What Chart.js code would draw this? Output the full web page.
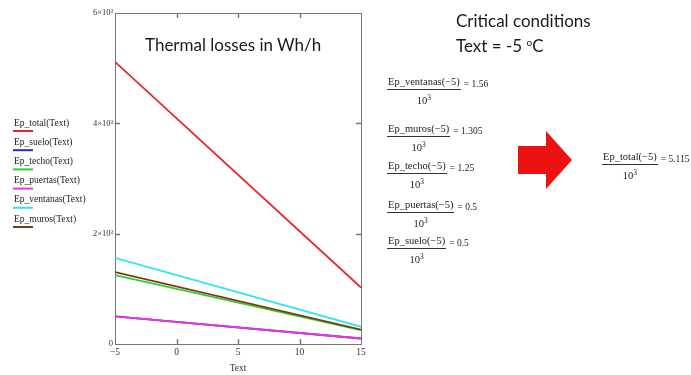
<!DOCTYPE html>
<html>
<head>
<meta charset="utf-8">
<script src="https://cdn.jsdelivr.net/npm/chart.js@4/dist/chart.umd.min.js"></script>
<style>
  body { margin: 0; background: #fff; }
  #page { position: relative; width: 691px; height: 375px; overflow: hidden; font-family: "Liberation Serif", serif; color: #222; }
  #myChart { position: absolute; left: 0; top: 0; }
  .big { position: absolute; font-family: Lato, "Open Sans", sans-serif; font-size: 17px; line-height: 22px; white-space: nowrap; color: #1a1a1a; }
  .big sup { font-size: 10px; vertical-align: 6px; }
  .frac { position: absolute; font-size: 10.5px; line-height: 12px; white-space: nowrap; }
  .frac .num { display: block; border-bottom: 1px solid #333; padding: 0 1px 1px 1px; }
  .frac .den { display: block; text-align: center; margin-top: 2px; }
  .frac .den sup { font-size: 7.5px; vertical-align: 4px; }
  .frac .eq { position: absolute; left: 100%; top: 2px; padding-left: 3px; font-size: 9.5px; }
  #arrow { position: absolute; left: 0; top: 0; }
</style>
</head>
<body>
<div id="page">
  <canvas id="myChart" width="691" height="375"></canvas>
  <div class="big" style="left:145px; top:34px;">Thermal losses in Wh/h</div>
  <div class="big" style="left:456px; top:10px;">Critical conditions</div>
  <div class="big" style="left:456px; top:31px;">Text = -5 <sup>o</sup>C</div>
  <svg id="arrow" width="691" height="375">
    <polygon points="518,146 546,146 546,131 572,160 546,189 546,174 518,174" fill="#ee1111"/>
  </svg>
  <div id="formulas"></div>
</div>
<script>
// values (Wh/h) at Text = -5 and Text = 15
var textValues = [-5, 15];
var epTotal = [5115, 1023];
var epSuelo = [500, 100];
var epTecho = [1250, 250];
var epPuertas = [500, 100];
var epVentanas = [1560, 312];
var epMuros = [1305, 261];

var xTicks = [-5, 0, 5, 10, 15];
var xTickLabels = ["\u22125", "0", "5", "10", "15"];
var yTicks = [0, 2000, 4000, 6000];
var yTickLabels = ["0", "2\u00d710\u00b3", "4\u00d710\u00b3", "6\u00d710\u00b3"];

var seriesNames = ["Ep_total", "Ep_suelo", "Ep_techo", "Ep_puertas", "Ep_ventanas", "Ep_muros"];
var seriesData = [epTotal, epSuelo, epTecho, epPuertas, epVentanas, epMuros];
var seriesColors = ["#e8262a", "#2a2ab8", "#33cc33", "#ee33dd", "#33e6f0", "#7a3d12"];

function toPoints(arr) {
  return arr.map(function (v, i) { return { x: textValues[i], y: v }; });
}

// frame + inward ticks like mathcad
var framePlugin = {
  id: "frame",
  beforeDatasetsDraw: function (chart) {
    var ctx = chart.ctx, a = chart.chartArea;
    var xs = chart.scales.x, ys = chart.scales.y;
    ctx.save();
    ctx.strokeStyle = "#777";
    ctx.lineWidth = 1;
    ctx.strokeRect(a.left + 0.5, a.top + 0.5, a.right - a.left, a.bottom - a.top);
    ctx.lineWidth = 1.5;
    xTicks.slice(1, -1).forEach(function (t) {
      var px = Math.round(xs.getPixelForValue(t)) + 0.5;
      ctx.beginPath();
      ctx.moveTo(px, a.bottom); ctx.lineTo(px, a.bottom - 5);
      ctx.moveTo(px, a.top); ctx.lineTo(px, a.top + 5);
      ctx.stroke();
    });
    yTicks.slice(1, -1).forEach(function (t) {
      var py = Math.round(ys.getPixelForValue(t)) + 0.5;
      ctx.beginPath();
      ctx.moveTo(a.left, py); ctx.lineTo(a.left + 5, py);
      ctx.moveTo(a.right, py); ctx.lineTo(a.right - 5, py);
      ctx.stroke();
    });
    ctx.restore();
  },
  afterDraw: function (chart) {
    // mathcad style legend on the left
    var ctx = chart.ctx;
    ctx.save();
    ctx.font = "9.5px 'Liberation Serif'";
    ctx.textBaseline = "middle";
    chart.data.datasets.forEach(function (ds, i) {
      var y = 123 + i * 19.2;
      ctx.fillStyle = "#222";
      ctx.fillText(ds.label, 14, y);
      ctx.strokeStyle = ds.borderColor;
      ctx.lineWidth = 2;
      ctx.beginPath();
      ctx.moveTo(13, y + 8); ctx.lineTo(33, y + 8);
      ctx.stroke();
    });
    ctx.restore();
  }
};

var ctx = document.getElementById("myChart").getContext("2d");
var myChart = new Chart(ctx, {
  type: "line",
  data: {
    datasets: seriesNames.map(function (name, i) {
      return {
        label: name + "(Text)",
        data: toPoints(seriesData[i]),
        borderColor: seriesColors[i],
        borderWidth: 1.8,
        pointRadius: 0,
        fill: false,
        tension: 0,
        order: seriesNames.length - i
      };
    })
  },
  options: {
    responsive: false,
    animation: false,
    devicePixelRatio: 1,
    layout: { padding: { top: 13, right: 330, left: 0, bottom: 0 } },
    plugins: { legend: { display: false }, tooltip: { enabled: false } },
    scales: {
      x: {
        type: "linear",
        min: -5,
        max: 15,
        afterBuildTicks: function (scale) { scale.ticks = xTicks.map(function (v) { return { value: v }; }); },
        afterFit: function (scale) { scale.height = 31; },
        grid: { display: false, drawTicks: false },
        border: { display: false },
        ticks: {
          padding: 3,
          color: "#333",
          font: { family: "'Liberation Serif'", size: 9.5 },
          maxRotation: 0,
          callback: function (value) { return xTickLabels[xTicks.indexOf(value)]; }
        },
        title: { display: true, text: "Text", color: "#333", font: { family: "'Liberation Serif'", size: 9.5 }, padding: { top: 2, bottom: 1 } }
      },
      y: {
        min: 0,
        max: 6000,
        afterBuildTicks: function (scale) { scale.ticks = yTicks.map(function (v) { return { value: v }; }); },
        afterFit: function (scale) { scale.width = 115; },
        grid: { display: false, drawTicks: false },
        border: { display: false },
        ticks: {
          padding: 2,
          color: "#333",
          font: { family: "'Liberation Serif'", size: 8.5 },
          callback: function (value) { return yTickLabels[yTicks.indexOf(value)]; }
        }
      }
    }
  },
  plugins: [framePlugin]
});

// "critical conditions" values: Ep(-5)/10^3, taken from the same arrays
var formulaOrder = [4, 5, 2, 3, 1];
var formulaTops = [76, 123, 160, 199, 235];
var html = "";
formulaOrder.forEach(function (k, j) {
  html += '<div class="frac" style="left:387px; top:' + formulaTops[j] + 'px;">' +
    '<span class="num">' + seriesNames[k] + '(\u22125)</span>' +
    '<span class="den">10<sup>3</sup></span>' +
    '<span class="eq">= ' + (seriesData[k][0] / 1000) + '</span></div>';
});
html += '<div class="frac" style="left:602px; top:151px;">' +
  '<span class="num">' + seriesNames[0] + '(\u22125)</span>' +
  '<span class="den">10<sup>3</sup></span>' +
  '<span class="eq">= ' + (epTotal[0] / 1000) + '</span></div>';
document.getElementById("formulas").innerHTML = html;
</script>
</body>
</html>
